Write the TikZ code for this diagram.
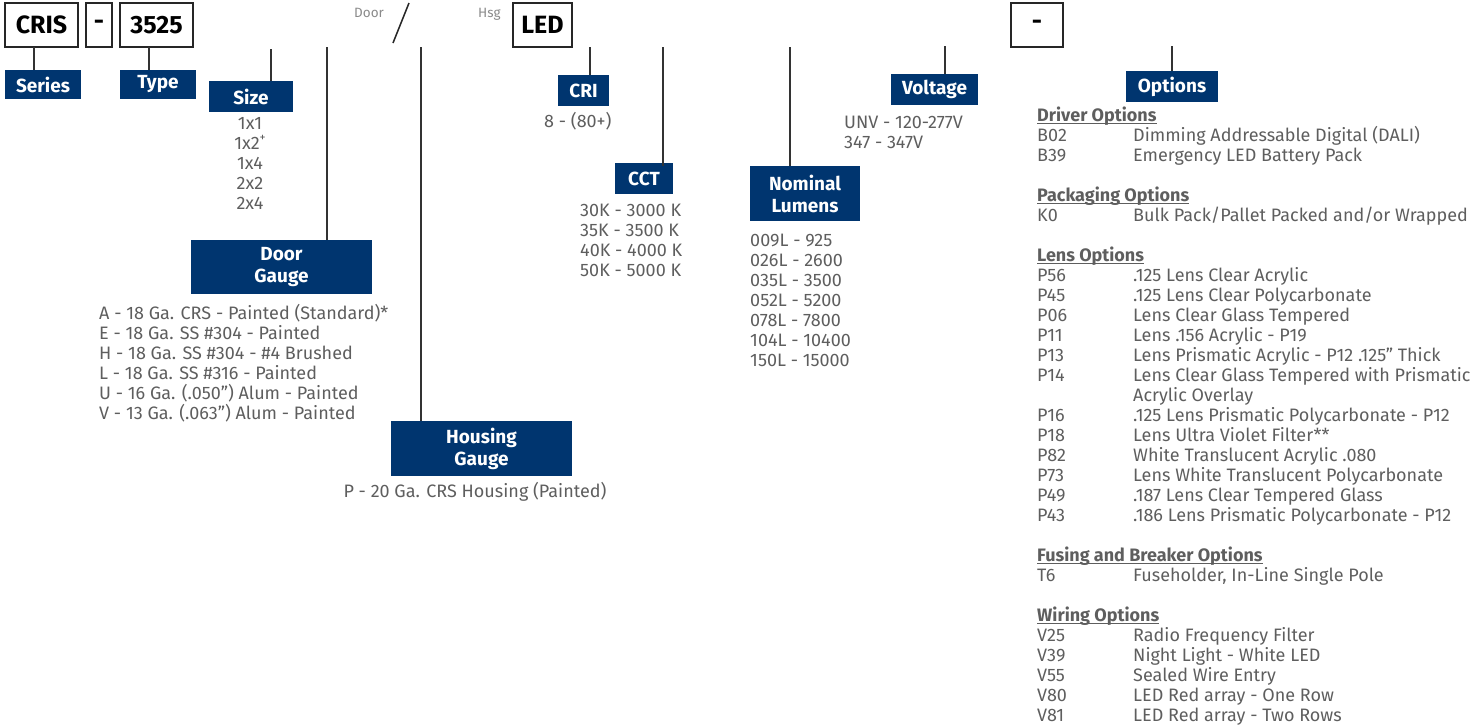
\documentclass[tikz,border=0pt]{standalone}
\usepackage{fontspec}
\setmainfont{Fira Sans}
\definecolor{navy}{HTML}{00356F}
\definecolor{txt}{HTML}{5E5E5E}
\definecolor{lightt}{HTML}{8A8A8A}
\definecolor{conn}{HTML}{333333}
\tikzset{
  codebox/.style={draw=black!85, line width=1.5pt, fill=white, inner sep=0pt,
    font=\fontsize{25}{28}\selectfont\bfseries, text=black},
  lab/.style={fill=navy, text=white, inner sep=0pt, align=center,
    font=\fontsize{19}{22}\selectfont\bfseries},
  lst/.style={anchor=base west, inner sep=0pt, text=txt, font=\fontsize{18}{20}\selectfont},
  lstc/.style={lst, anchor=base},
  head/.style={lst, font=\fontsize{18}{20}\selectfont\bfseries},
  small/.style={anchor=base west, inner sep=0pt, text=lightt, font=\fontsize{13.5}{15}\selectfont},
  cline/.style={conn, line width=1.8pt},
  uline/.style={txt, line width=1.3pt}
}
\newcommand\optrow[4]{\node[lst] (#1c) at (1037,#2) {#3}; \node[lst] (#1d) at (1133,#2) {#4};}
\newcommand\optrowd[3]{\node[lst] (#1d) at (1133,#2) {#3};}
\newcommand\opthead[3]{\node[head] (#1) at (1037,#2) {#3};
  \draw[uline] ([yshift=-2.2pt]#1.base west) -- ([yshift=-2.2pt]#1.base east);}
\begin{document}
\begin{tikzpicture}[x=1pt,y=-1pt]
\useasboundingbox (0,0) rectangle (1478,726);

% top code boxes
\node[codebox, minimum width=73pt, minimum height=44pt] (cris) at (41.5,25) {CRIS};
\node[codebox, minimum width=26pt, minimum height=44pt] (dash1) at (99,25) {-};
\node[codebox, minimum width=73pt, minimum height=44pt] (num) at (156.5,25) {3525};
\node[codebox, minimum width=59pt, minimum height=44pt] (led) at (542.5,25) {LED};
\node[codebox, minimum width=52pt, minimum height=44pt] (dash2) at (1037,25) {\raisebox{-6pt}{-}};

\node[small] (door) at (354,17) {Door};
\node[small] (hsg) at (478,17) {Hsg};
\coordinate (sl1) at (393,43);
\coordinate (sl2) at (409,3);
\draw[black!85, line width=1.5pt] (sl1) -- (sl2);

% label boxes
\node[lab, minimum width=76pt, minimum height=29pt] (series) at (43,84.5) {Series};
\node[lab, minimum width=76pt, minimum height=29pt] (type) at (158,84.5) {Type};
\node[lab, minimum width=84pt, minimum height=31pt] (size) at (251,96.5) {Size};
\node[lab, minimum width=181pt, minimum height=54pt] (doorg) at (281.5,267) {Door\\[0pt]Gauge};
\node[lab, minimum width=181pt, minimum height=55pt] (housg) at (481.5,448.5) {Housing\\[0pt]Gauge};
\node[lab, minimum width=51pt, minimum height=31pt] (cri) at (583.5,90.5) {CRI};
\node[lab, minimum width=58pt, minimum height=31pt] (cct) at (644,178.5) {CCT};
\node[lab, minimum width=110pt, minimum height=55pt] (lumens) at (805,193.5) {Nominal\\[0pt]Lumens};
\node[lab, minimum width=87pt, minimum height=31pt] (voltage) at (934.5,89.5) {Voltage};
\node[lab, minimum width=92pt, minimum height=31pt] (options) at (1172,86.5) {Options};

% connectors
\coordinate (cSer) at (34,47);
\coordinate (cTyp) at (149,47);
\coordinate (cSiz) at (271,49);
\coordinate (cDoor) at (327,47);
\coordinate (cHsg) at (421,47);
\coordinate (cCri) at (590,47);
\coordinate (cCct) at (663,47);
\coordinate (cLum) at (790,47);
\coordinate (cVol) at (945,46);
\coordinate (cOpt) at (1172,46);
\draw[cline] (cSer) -- (cSer |- series.north);
\draw[cline] (cTyp) -- (cTyp |- type.north);
\draw[cline] (cSiz) -- (cSiz |- size.north);
\draw[cline] (cDoor) -- (cDoor |- doorg.north);
\draw[cline] (cHsg) -- (cHsg |- housg.north);
\draw[cline] (cCri) -- (cCri |- cri.north);
\draw[cline] (cCct) -- ([yshift=-3pt]cCct |- cct.north);
\draw[cline] (cLum) -- (cLum |- lumens.north);
\draw[cline] (cVol) -- (cVol |- voltage.north);
\draw[cline] (cOpt) -- (cOpt |- options.north);

% size list
\node[lstc] (s1) at (250,129) {1x1};
\node[lstc] (s2) at (250,149) {1x2\raisebox{0.75ex}{\fontsize{12}{12}\selectfont +}};
\node[lstc] (s3) at (250,169) {1x4};
\node[lstc] (s4) at (250,189) {2x2};
\node[lstc] (s5) at (250,209) {2x4};

% door gauge list
\node[lst] (d1) at (99,319) {A - 18 Ga. CRS - Painted (Standard)*};
\node[lst] (d2) at (99,339) {E - 18 Ga. SS \#304 - Painted};
\node[lst] (d3) at (99,359) {H - 18 Ga. SS \#304 - \#4 Brushed};
\node[lst] (d4) at (99,379) {L - 18 Ga. SS \#316 - Painted};
\node[lst] (d5) at (99,399) {U - 16 Ga. (.050”) Alum - Painted};
\node[lst] (d6) at (99,419) {V - 13 Ga. (.063”) Alum - Painted};

\node[lstc] (h1) at (475,497) {P - 20 Ga. CRS Housing (Painted)};

\node[lst] (cr1) at (544,127) {8 - (80+)};

\node[lst] (t1) at (580,216) {30K - 3000 K};
\node[lst] (t2) at (580,236) {35K - 3500 K};
\node[lst] (t3) at (580,256) {40K - 4000 K};
\node[lst] (t4) at (580,276) {50K - 5000 K};

\node[lst] (l1) at (750,246) {009L - 925};
\node[lst] (l2) at (750,266) {026L - 2600};
\node[lst] (l3) at (750,286) {035L - 3500};
\node[lst] (l4) at (750,306) {052L - 5200};
\node[lst] (l5) at (750,326) {078L - 7800};
\node[lst] (l6) at (750,346) {104L - 10400};
\node[lst] (l7) at (750,366) {150L - 15000};

\node[lst] (v1) at (844,128) {UNV - 120-277V};
\node[lst] (v2) at (844,148) {347 - 347V};

% options
\opthead{hDrv}{121}{Driver Options\ }
\optrow{oB02}{141}{B02}{Dimming Addressable Digital (DALI)}
\optrow{oB39}{161}{B39}{Emergency LED Battery Pack}
\opthead{hPkg}{201}{Packaging Options}
\optrow{oK0}{221}{K0}{Bulk Pack/Pallet Packed and/or Wrapped}
\opthead{hLns}{261}{Lens Options}
\optrow{oP56}{281}{P56}{.125 Lens Clear Acrylic}
\optrow{oP45}{301}{P45}{.125 Lens Clear Polycarbonate}
\optrow{oP06}{321}{P06}{Lens Clear Glass Tempered}
\optrow{oP11}{341}{P11}{Lens .156 Acrylic - P19}
\optrow{oP13}{361}{P13}{Lens Prismatic Acrylic - P12 .125” Thick}
\optrow{oP14}{381}{P14}{Lens Clear Glass Tempered with Prismatic}
\optrowd{oP14b}{401}{Acrylic Overlay}
\optrow{oP16}{421}{P16}{.125 Lens Prismatic Polycarbonate - P12}
\optrow{oP18}{441}{P18}{Lens Ultra Violet Filter**}
\optrow{oP82}{461}{P82}{White Translucent Acrylic .080}
\optrow{oP73}{481}{P73}{Lens White Translucent Polycarbonate}
\optrow{oP49}{501}{P49}{.187 Lens Clear Tempered Glass}
\optrow{oP43}{521}{P43}{.186 Lens Prismatic Polycarbonate - P12}
\opthead{hFus}{561}{Fusing and Breaker Options}
\optrow{oT6}{581}{T6}{Fuseholder, In-Line Single Pole}
\opthead{hWir}{621}{Wiring Options}
\optrow{oV25}{641}{V25}{Radio Frequency Filter}
\optrow{oV39}{661}{V39}{Night Light - White LED}
\optrow{oV55}{681}{V55}{Sealed Wire Entry}
\optrow{oV80}{701}{V80}{LED Red array - One Row}
\optrow{oV81}{721}{V81}{LED Red array - Two Rows}
\end{tikzpicture}
\end{document}
